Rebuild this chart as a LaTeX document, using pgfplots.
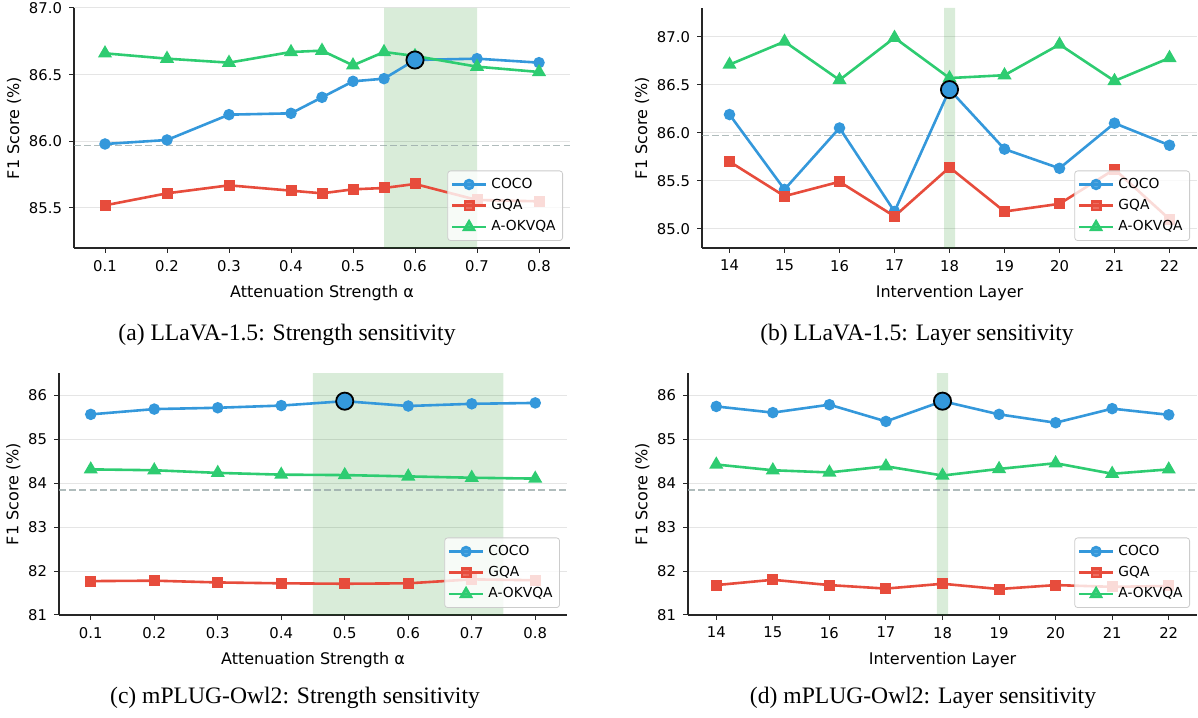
\documentclass[border=0pt]{standalone}
\usepackage{fontspec}
\setmainfont{DejaVu Sans}
\newfontfamily\capfont{Liberation Serif}
\usepackage{pgfplots}
\pgfplotsset{compat=1.18}

\definecolor{coco}{HTML}{3498DB}
\definecolor{gqa}{HTML}{E74C3C}
\definecolor{okvqa}{HTML}{2ECC71}
\definecolor{base}{HTML}{95A5A6}
\definecolor{band}{RGB}{0,128,0}

\pgfplotsset{
  panel/.style={
    scale only axis,
    axis lines=left,
    axis line style={-, line width=0.6pt, black!85},
    tick align=outside,
    major tick length=2.5pt,
    tick style={black!85, line width=0.5pt},
    ymajorgrids,
    major grid style={black!10, line width=0.5pt},
    ticklabel style={font=\fontsize{7.4}{8}\selectfont},
    /pgf/number format/assume math mode=true,
    label style={font=\fontsize{8}{9.5}\selectfont},
    ylabel={F1 Score (\%)},
    ylabel style={yshift=-3pt},
    legend style={font=\fontsize{6.9}{8}\selectfont, at={(1,0)}, anchor=south east,
      xshift=-3.5pt, yshift=3.5pt, fill=white, fill opacity=0.8, text opacity=1,
      draw=black!20, rounded corners=1.5pt, cells={anchor=west}, inner sep=1.5pt},
    every axis plot/.append style={line width=1.3pt},
  },
  coco/.style={color=coco, mark=*, mark size=2.2pt, mark options={solid}},
  gqa/.style={color=gqa, mark=square*, mark size=2.1pt, mark options={solid}},
  okv/.style={color=okvqa, mark=triangle*, mark size=2.8pt, mark options={solid}},
  band/.style={draw=none, fill=band, fill opacity=0.15, forget plot, line width=0pt},
  baseline/.style={color=base, opacity=0.75, line width=0.8pt, dash pattern=on 3.5pt off 1.6pt, forget plot},
  best/.style={only marks, mark=*, mark size=4.3pt, mark options={fill=coco, draw=black, line width=0.9pt}, forget plot},
}

\begin{document}
\begin{tikzpicture}
\useasboundingbox (0,0) rectangle (599pt,358.5pt);

% (a) LLaVA-1.5 strength
\begin{axis}[panel, at={(37pt,234.5pt)}, anchor=south west, width=248pt, height=120pt,
  xmin=0.05, xmax=0.85, ymin=85.2, ymax=87.0,
  xtick={0.1,0.2,0.3,0.4,0.5,0.6,0.7,0.8},
  xticklabels={0.1,0.2,0.3,0.4,0.5,0.6,0.7,0.8},
  ytick={85.5,86.0,86.5,87.0}, yticklabels={85.5,86.0,86.5,87.0},
  xlabel={Attenuation Strength α}]
\addplot[band] coordinates {(0.55,85.2)(0.7,85.2)(0.7,87.0)(0.55,87.0)(0.55,85.2)};
\addplot[baseline] coordinates {(0.05,85.97)(0.85,85.97)};
\addplot[coco] coordinates {(0.1,85.98)(0.2,86.01)(0.3,86.20)(0.4,86.21)(0.45,86.33)(0.5,86.45)(0.55,86.47)(0.6,86.61)(0.7,86.62)(0.8,86.59)};
\addplot[gqa] coordinates {(0.1,85.52)(0.2,85.61)(0.3,85.67)(0.4,85.63)(0.45,85.61)(0.5,85.64)(0.55,85.65)(0.6,85.68)(0.7,85.56)(0.8,85.55)};
\addplot[okv] coordinates {(0.1,86.66)(0.2,86.62)(0.3,86.59)(0.4,86.67)(0.45,86.68)(0.5,86.57)(0.55,86.67)(0.6,86.64)(0.7,86.56)(0.8,86.52)};
\addplot[best] coordinates {(0.6,86.61)};
\legend{COCO,GQA,A-OKVQA}
\end{axis}
\node[font=\capfont\fontsize{11.8}{13}\selectfont] at (143.5pt,191pt) {(a) LLaVA-1.5: Strength sensitivity};

% (b) LLaVA-1.5 layer
\begin{axis}[panel, at={(351pt,234.5pt)}, anchor=south west, width=247.5pt, height=120pt,
  xmin=13.5, xmax=22.5, ymin=84.8, ymax=87.3,
  xtick={14,15,16,17,18,19,20,21,22},
  ytick={85.0,85.5,86.0,86.5,87.0}, yticklabels={85.0,85.5,86.0,86.5,87.0},
  xlabel={Intervention Layer}]
\addplot[band] coordinates {(17.9,84.8)(18.1,84.8)(18.1,87.3)(17.9,87.3)(17.9,84.8)};
\addplot[baseline] coordinates {(13.5,85.97)(22.5,85.97)};
\addplot[coco] coordinates {(14,86.19)(15,85.41)(16,86.05)(17,85.18)(18,86.45)(19,85.83)(20,85.63)(21,86.10)(22,85.87)};
\addplot[gqa] coordinates {(14,85.70)(15,85.34)(16,85.49)(17,85.13)(18,85.64)(19,85.18)(20,85.26)(21,85.62)(22,85.10)};
\addplot[okv] coordinates {(14,86.71)(15,86.95)(16,86.55)(17,86.99)(18,86.57)(19,86.60)(20,86.92)(21,86.54)(22,86.78)};
\addplot[best] coordinates {(18,86.45)};
\legend{COCO,GQA,A-OKVQA}
\end{axis}
\node[font=\capfont\fontsize{11.8}{13}\selectfont] at (458.5pt,191pt) {(b) LLaVA-1.5: Layer sensitivity};

% (c) mPLUG-Owl2 strength
\begin{axis}[panel, at={(29.5pt,51pt)}, anchor=south west, width=254pt, height=121pt,
  xmin=0.05, xmax=0.85, ymin=81, ymax=86.5,
  xtick={0.1,0.2,0.3,0.4,0.5,0.6,0.7,0.8},
  xticklabels={0.1,0.2,0.3,0.4,0.5,0.6,0.7,0.8},
  ytick={81,82,83,84,85,86},
  xlabel={Attenuation Strength α}]
\addplot[band] coordinates {(0.45,81)(0.75,81)(0.75,86.5)(0.45,86.5)(0.45,81)};
\addplot[baseline] coordinates {(0.05,83.84)(0.85,83.84)};
\addplot[coco] coordinates {(0.1,85.56)(0.2,85.68)(0.3,85.71)(0.4,85.76)(0.5,85.86)(0.6,85.75)(0.7,85.80)(0.8,85.82)};
\addplot[gqa] coordinates {(0.1,81.77)(0.2,81.78)(0.3,81.74)(0.4,81.72)(0.5,81.71)(0.6,81.72)(0.7,81.81)(0.8,81.79)};
\addplot[okv] coordinates {(0.1,84.31)(0.2,84.29)(0.3,84.23)(0.4,84.19)(0.5,84.18)(0.6,84.15)(0.7,84.12)(0.8,84.10)};
\addplot[best] coordinates {(0.5,85.86)};
\legend{COCO,GQA,A-OKVQA}
\end{axis}
\node[font=\capfont\fontsize{11.8}{13}\selectfont] at (147.5pt,9.5pt) {(c) mPLUG-Owl2: Strength sensitivity};

% (d) mPLUG-Owl2 layer
\begin{axis}[panel, at={(344pt,51pt)}, anchor=south west, width=254.5pt, height=121pt,
  xmin=13.5, xmax=22.5, ymin=81, ymax=86.5,
  xtick={14,15,16,17,18,19,20,21,22},
  ytick={81,82,83,84,85,86},
  xlabel={Intervention Layer}]
\addplot[band] coordinates {(17.9,81)(18.1,81)(18.1,86.5)(17.9,86.5)(17.9,81)};
\addplot[baseline] coordinates {(13.5,83.84)(22.5,83.84)};
\addplot[coco] coordinates {(14,85.74)(15,85.60)(16,85.78)(17,85.40)(18,85.86)(19,85.56)(20,85.37)(21,85.69)(22,85.55)};
\addplot[gqa] coordinates {(14,81.68)(15,81.80)(16,81.68)(17,81.60)(18,81.71)(19,81.59)(20,81.68)(21,81.64)(22,81.66)};
\addplot[okv] coordinates {(14,84.42)(15,84.29)(16,84.24)(17,84.38)(18,84.17)(19,84.32)(20,84.45)(21,84.21)(22,84.31)};
\addplot[best] coordinates {(18,85.86)};
\legend{COCO,GQA,A-OKVQA}
\end{axis}
\node[font=\capfont\fontsize{11.8}{13}\selectfont] at (461.5pt,9.5pt) {(d) mPLUG-Owl2: Layer sensitivity};
\end{tikzpicture}
\end{document}
